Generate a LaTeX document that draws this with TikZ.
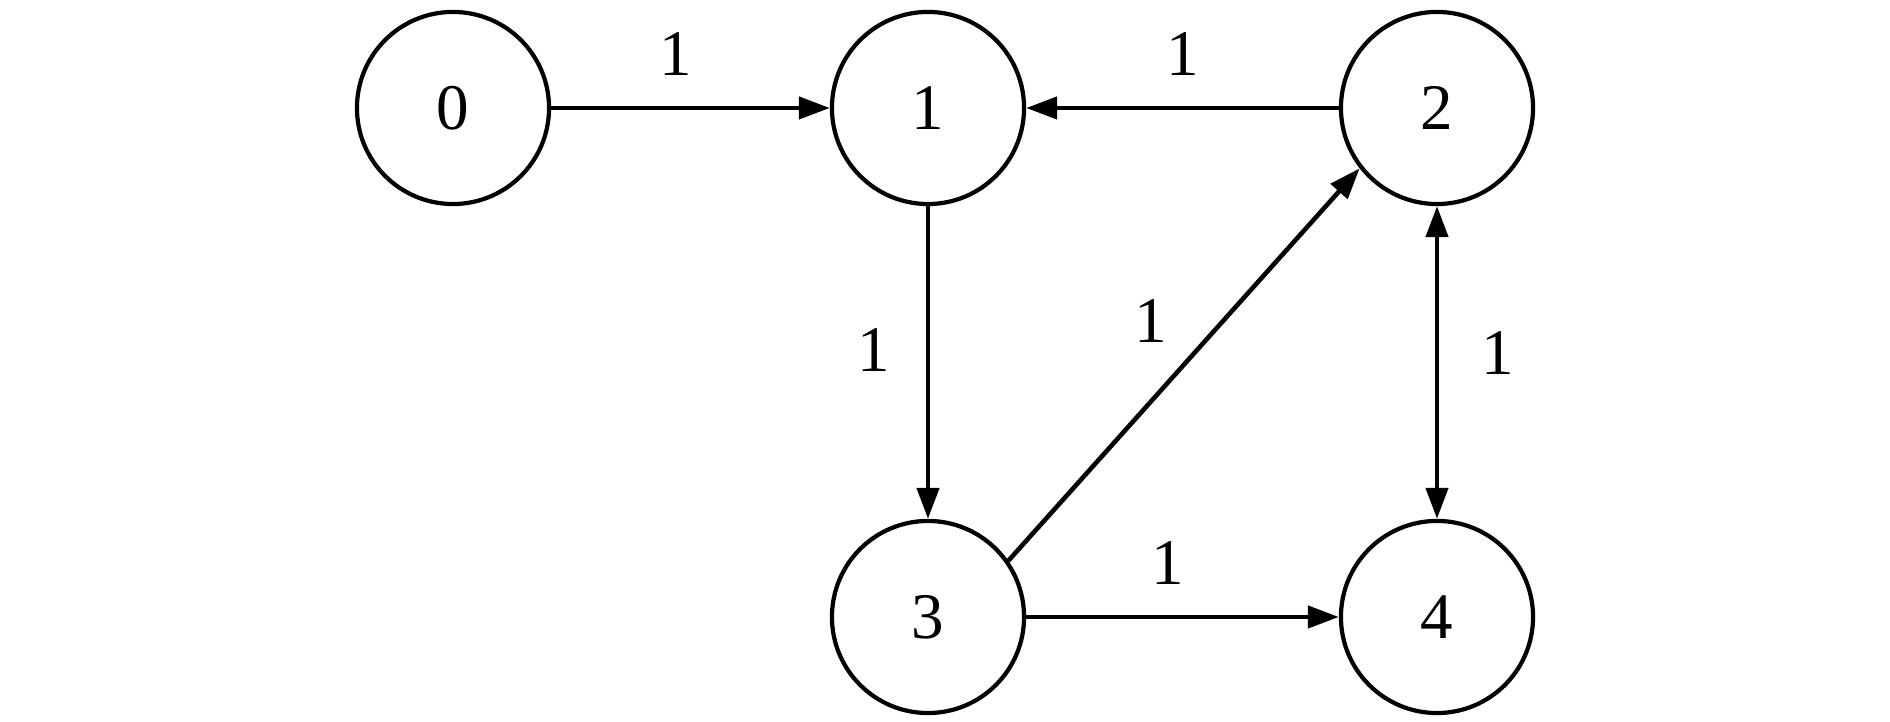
\documentclass[tikz,border=0pt]{standalone}
\usepackage{fontspec}
\setmainfont{Liberation Serif}
\usepackage{tikz}
\usetikzlibrary{arrows.meta}
\tikzset{
    vertex/.style = {draw, circle, line width=1.2pt, minimum size=1.92cm, inner sep=0pt, font=\fontsize{18.5}{22}\selectfont},
    link/.style = {line width=1.3pt, -{Triangle[length=3.1mm,width=2.2mm]}},
    both-link/.style = {line width=1.3pt, {Triangle[length=3.1mm,width=2.2mm]}-{Triangle[length=3.1mm,width=2.2mm]}},
    weight/.style = {inner sep=0pt, font=\fontsize{18.5}{22}\selectfont},
}

\begin{document}
\begin{tikzpicture}[x=0.01cm, y=0.01cm]
\useasboundingbox (0,0) rectangle (1890,722);
\node [vertex] (n0) at (453,614) {0};
\node [vertex] (n1) at (928,614) {1};
\node [vertex] (n2) at (1437,614) {2};
\node [vertex] (n3) at (928,105) {3};
\node [vertex] (n4) at (1437,105) {4};

\draw [link] (n0) -- node[weight, above=0.3cm, xshift=-0.15cm] (w01) {1} (n1);
\draw [link] (n2) -- node[weight, above=0.3cm] (w21) {1} (n1);
\draw [link] (n1) -- node[weight, left=0.36cm, yshift=0.12cm] (w13) {1} (n3);
\draw [link] (n3.35) -- node[weight, above left=0.15cm, yshift=0.05cm] (w32) {1} (n2.218);
\draw [both-link] (n2) -- node[weight, right=0.42cm, yshift=0.09cm] (w24) {1} (n4);
\draw [link] (n3) -- node[weight, above=0.3cm, xshift=-0.15cm] (w34) {1} (n4);
\end{tikzpicture}
\end{document}
